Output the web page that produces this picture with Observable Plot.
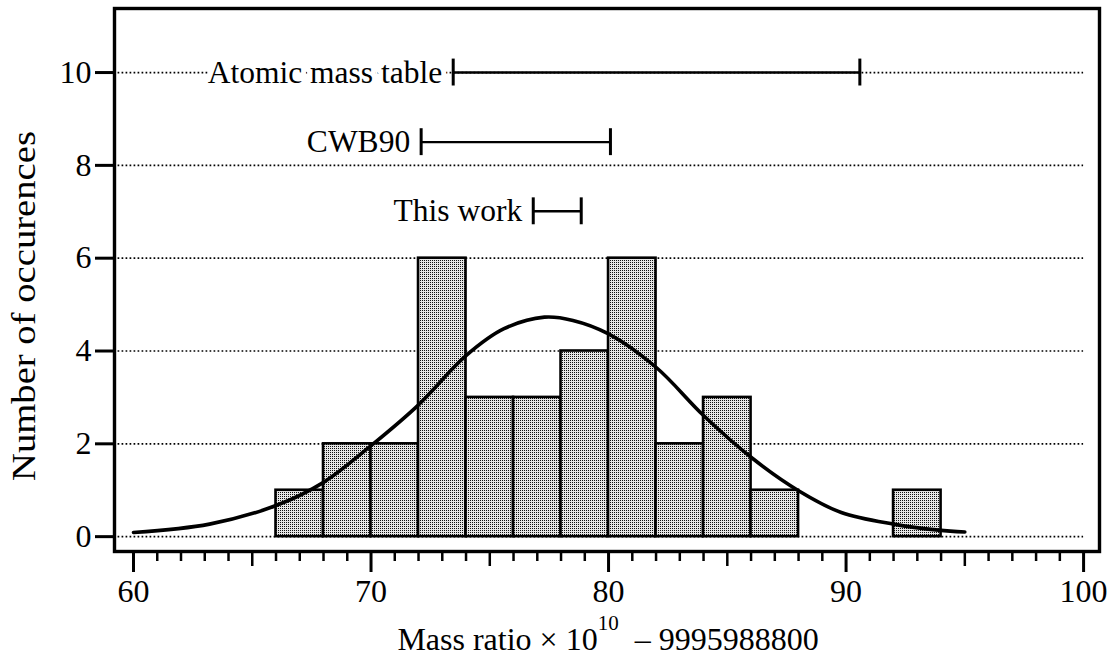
<!DOCTYPE html>
<html><head><meta charset="utf-8">
<script src="https://cdn.jsdelivr.net/npm/d3@7"></script>
<script src="https://cdn.jsdelivr.net/npm/@observablehq/plot@0.6"></script>
<style>
body{margin:0;background:#fff} svg{display:block}
</style>
</head><body><div id="chart"></div>
<script>
// Histogram bins (lower / upper edge) and counts
const binStart = [66, 68, 70, 72, 74, 76, 78, 80, 82, 84, 86, 92];
const binEnd   = [68, 70, 72, 74, 76, 78, 80, 82, 84, 86, 88, 94];
const counts   = [1, 2, 2, 6, 3, 3, 4, 6, 2, 3, 1, 1];

// Fitted curve, points
const fitX = [60, 63.2, 66, 68, 70, 72, 74, 75.6, 77.3, 78.5, 80, 82, 84, 86, 88, 89.8, 92, 93.9, 95];
const fitY = [0.09, 0.27, 0.67, 1.17, 1.96, 2.84, 3.90, 4.48, 4.73, 4.66, 4.37, 3.65, 2.61, 1.71, 0.99, 0.52, 0.27, 0.14, 0.1];

// Reference intervals
const refNames = ["Atomic mass table", "CWB90", "This work"];
const refLo  = [73.46, 72.11, 76.83];
const refHi  = [90.58, 80.08, 78.85];
const refRow = [10.0, 8.5, 7.01];

// Ticks
const yTicks = [0, 2, 4, 6, 8, 10];
const xMajor = [60, 70, 80, 90, 100];
const xMid = [65, 75, 85, 95];
const xMinor = d3.range(61, 100).filter(v => v % 5 !== 0);

const FONT = '"Liberation Serif", "Times New Roman", serif';

const bins = binStart.map((s, i) => ({x1: s, x2: binEnd[i], n: counts[i]}));
const fit = fitX.map((x, i) => ({x, y: fitY[i]}));
const refs = refNames.map((name, i) => ({name, lo: refLo[i], hi: refHi[i], y: refRow[i]}));

const chart = Plot.plot({
  width: 1112,
  height: 659,
  marginLeft: 114,
  marginRight: 13,
  marginTop: 8,
  marginBottom: 108,
  style: {fontFamily: FONT, fontSize: "32px", color: "black", background: "white"},
  x: {domain: [59.2, 100.67]},
  y: {domain: [-0.32, 11.38]},
  marks: [
    Plot.ruleY(yTicks, {x1: 59.35, x2: 100, stroke: "black", strokeWidth: 1.7, strokeDasharray: "1.7,2.3"}),
    Plot.rectY(bins, {x1: "x1", x2: "x2", y1: 0, y2: "n", fill: "url(#stip)", stroke: "black", strokeWidth: 2.6}),
    Plot.line(fit, {x: "x", y: "y", curve: "catmull-rom", stroke: "black", strokeWidth: 3.6}),
    Plot.text(refs, {x: "lo", y: "y", text: "name", textAnchor: "end", dx: -11, fontSize: 31.5, fill: "black", stroke: "white", strokeWidth: 10}),
    Plot.ruleY(refs, {x1: "lo", x2: "hi", y: "y", stroke: "black", strokeWidth: 2.4}),
    Plot.ruleX(refs, {x: "lo", y1: d => d.y - 0.29, y2: d => d.y + 0.29, stroke: "black", strokeWidth: 3}),
    Plot.ruleX(refs, {x: "hi", y1: d => d.y - 0.29, y2: d => d.y + 0.29, stroke: "black", strokeWidth: 3}),
    Plot.frame({stroke: "black", strokeWidth: 3.4}),
    Plot.axisY(yTicks, {tickSize: 19, tickPadding: 4, strokeWidth: 3, fontSize: 32, label: null}),
    Plot.axisX(xMajor, {tickSize: 21, tickPadding: 7, strokeWidth: 3, fontSize: 32, label: null}),
    Plot.axisX(xMid, {tickSize: 15, strokeWidth: 2.5, text: null, label: null}),
    Plot.axisX(xMinor, {tickSize: 10, strokeWidth: 2.5, text: null, label: null})
  ]
});

const svg = d3.select(chart);

const defs = svg.insert("defs", ":first-child");
const pat = defs.append("pattern").attr("id", "stip").attr("width", 2).attr("height", 2)
  .attr("patternUnits", "userSpaceOnUse");
pat.append("rect").attr("width", 2).attr("height", 2).attr("fill", "#e6e6e6");
pat.append("rect").attr("width", 1).attr("height", 1).attr("fill", "#111");

// Y axis title
svg.append("text")
  .attr("transform", "translate(24,306) rotate(-90)")
  .attr("text-anchor", "middle").attr("dominant-baseline", "central")
  .attr("font-family", FONT).attr("font-size", 33).attr("fill", "black")
  .attr("textLength", 350).attr("lengthAdjust", "spacingAndGlyphs")
  .text("Number of occurences");

// X axis title with superscript
const xt = svg.append("text")
  .attr("x", 608).attr("y", 650)
  .attr("text-anchor", "middle")
  .attr("font-family", FONT).attr("font-size", 32).attr("fill", "black");
xt.append("tspan").text("Mass ratio \u00d7 10");
xt.append("tspan").attr("dy", -20).attr("font-size", 21).text("10");
xt.append("tspan").attr("dy", 20).text("  \u2013 9995988800");

document.getElementById("chart").appendChild(chart);
</script>
</body></html>
